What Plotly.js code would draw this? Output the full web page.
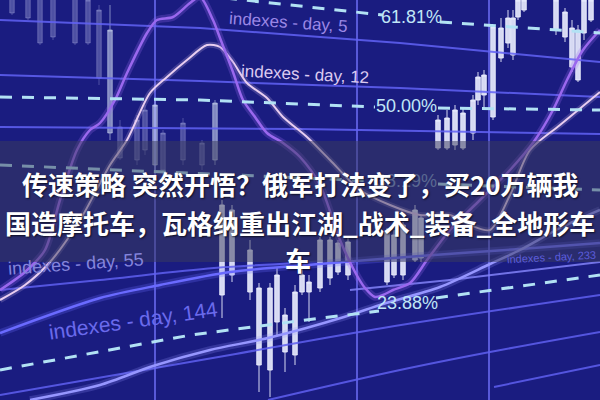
<!DOCTYPE html>
<html><head><meta charset="utf-8">
<script src="https://cdn.plot.ly/plotly-3.0.1.min.js"></script>
<style>html,body{margin:0;padding:0;background:#1a1c80;}#chart{width:600px;height:400px;}</style>
</head><body><div id="chart"></div>
<script>
// ---------- data (index level per trading day) ----------
const day5X   = [0,25,45,60,77,90,100,115,127,147,157,173,190,200,213,220,233,243,255,267,283,300,320,340,355,365,375,383,393,410,427,450,480,510,535,553,567,583,600];
const day5Y   = [110,128,150,200,250,270,277,300,327,367,380,383,397,403,380,362,328,300,283,267,257,243,215,160,128,112,103,105,110,117,140,170,200,230,260,290,320,350,370];
const day12X  = [0,25,50,80,110,127,150,167,187,207,220,233,247,267,283,307,330,360,390,420,450,470,490,510,530,560,600];
const day12Y  = [100,115,138,180,235,260,307,323,340,355,353,338,317,302,283,263,240,210,195,185,185,175,170,205,250,275,308];
const day55X  = [30,100,153,210,268,344,383,440,490,520,560,600];
const day55Y  = [0,15,34,50,62,83,96,113,136,150,172,190];
const day144X = [0,100,160,230,320,420,520,600];
const day144Y = [67,102,115,128,136,144,151,157];
const trendBX = [0,100,214,300];
const trendBY = [110,120,132,137];
const trendRX = [350,450,600];
const trendRY = [110,120,138];
const trendDX = [0,230,383,600];
const trendDY = [5,45,72,105];
const trendEX = [268,400,490,600];
const trendEY = [0,30,48,68];
const trendFX = [494,600];
const trendFY = [13,35];
const upper1X = [0,200,400,600];
const upper1Y = [380,372,357,338];
const upper2X = [0,200,400,600];
const upper2Y = [325,319,312,303];
const upper3X = [0,300,600];
const upper3Y = [273,271,266];

// Fibonacci retracement levels (dashed), gap holds the label
const fib618X = [225,383,null,440,600];
const fib618Y = [402,385,null,378,367];
const fib50X  = [0,200,375,null,438,600];
const fib50Y  = [303,300,293,null,292,290];
const fib382X = [0,375,null,438,600];
const fib382Y = [235,219,null,216,210];
const fib2388X = [0,191,306,379,null,436,600];
const fib2388Y = [30,65,80,89,null,102,125];
const fibLabels = ["61.81%","50.00%","38.19%","23.88%"];

// candlesticks
const fadedX     = [12,28,40,53,75,88,99,120,137,145,163,183,202];
const fadedHigh  = [420,420,420,420,420,420,395,280,285,295,270,282,260];
const fadedOpen  = [387,382,357,363,357,357,322,242,240,250,230,240,235];
const fadedClose = [410,410,410,410,410,400,390,273,280,290,267,277,257];
const fadedLow   = [385,380,355,360,355,355,315,240,235,245,225,235,230];
const midX     = [110,155,215];
const midHigh  = [395,300,300];
const midOpen  = [267,235,240];
const midClose = [370,295,297];
const midLow   = [260,230,235];
const brightX     = [222,232,250,259,270,277,285,295,302,309,320,330,338,348,387,394,403,415,421,438,447,455,463,473,478,484,493,501,508,513,518,524,556,565,572,578,584,591];
const brightHigh  = [200,195,160,117,117,132,92,115,132,125,163,163,160,162,172,170,178,195,185,285,290,295,292,305,328,330,375,382,390,390,405,405,405,392,380,375,405,405];
const brightOpen  = [105,125,108,35,30,78,48,45,108,108,112,122,128,125,118,125,125,140,142,252,252,255,252,267,300,305,283,342,357,345,383,390,370,363,333,320,367,380];
const brightClose = [195,190,150,112,112,125,85,108,125,118,160,160,157,158,168,165,175,190,182,280,282,290,287,300,323,325,373,372,382,382,400,400,400,388,372,370,400,400];
const brightLow   = [82,118,100,8,3,65,28,35,105,78,108,115,125,120,115,122,120,138,138,250,250,250,250,260,295,290,280,338,352,340,380,388,365,358,328,318,360,378];

const titleLines = ["传速策略 突然开悟？俄军打法变了，买20万辆我","国造摩托车，瓦格纳重出江湖_战术_装备_全地形车","车"];
const indexLabels = ["indexes - day, 5","indexes - day, 12","indexes - day, 55","indexes - day, 144","indexes - day, 233"];

// ---------- traces ----------
const traces = [];
function line(x,y,color,width,extra){
  traces.push(Object.assign({type:'scatter',mode:'lines',x:x,y:y,hoverinfo:'skip',
    line:{color:color,width:width},connectgaps:false},extra||{}));
}
// straight guide lines
line(upper1X,upper1Y,'rgba(98,98,245,0.85)',2);
line(upper2X,upper2Y,'rgba(98,98,245,0.85)',2);
line(upper3X,upper3Y,'rgba(98,98,245,0.85)',2);
line(trendBX,trendBY,'',2,{line:{color:'rgba(95,95,240,0.85)',width:2,shape:'spline'}});
line(trendRX,trendRY,'rgba(130,130,248,0.85)',2);
line(trendDX,trendDY,'',2,{line:{color:'rgba(95,95,240,0.85)',width:2,shape:'spline'}});
line(trendEX,trendEY,'',2,{line:{color:'rgba(95,95,240,0.85)',width:2,shape:'spline'}});
line(trendFX,trendFY,'rgba(95,95,240,0.85)',2);

function candles(x,o,h,l,c,col){
  traces.push({type:'candlestick',x:x,open:o,high:h,low:l,close:c,hoverinfo:'skip',whiskerwidth:0,
    increasing:{line:{color:col,width:1},fillcolor:col},decreasing:{line:{color:col,width:1},fillcolor:col}});
}
candles(fadedX,fadedOpen,fadedHigh,fadedLow,fadedClose,'rgba(200,205,245,0.3)');
candles(midX,midOpen,midHigh,midLow,midClose,'rgba(215,225,245,0.55)');
candles(brightX,brightOpen,brightHigh,brightLow,brightClose,'rgba(235,238,255,0.9)');

// moving-average curves (with soft glow)
function glowLine(x,y,color,glow,width){
  traces.push({type:'scatter',mode:'lines',x:x,y:y,hoverinfo:'skip',line:{color:glow,width:width*3,shape:'spline',smoothing:0.8}});
  traces.push({type:'scatter',mode:'lines',x:x,y:y,hoverinfo:'skip',line:{color:color,width:width,shape:'spline',smoothing:0.8}});
}
glowLine(day144X,day144Y,'#6a6aff','rgba(106,106,255,0.25)',2.5);
glowLine(day55X,day55Y,'#9696ff','rgba(150,150,255,0.22)',2.5);
glowLine(day12X,day12Y,'#e8cdf0','rgba(232,205,240,0.2)',2);
glowLine(day5X,day5Y,'#9a68ee','rgba(154,104,238,0.25)',2.5);

// dashed retracement lines and their labels
const fibs = [[fib618X,fib618Y],[fib50X,fib50Y],[fib382X,fib382Y],[fib2388X,fib2388Y]];
fibs.forEach(function(p){
  line(p[0],p[1],'',3,{line:{color:'#b2e2f4',width:3,dash:'12px,10px'}});
});
const fibLabelX = fibs.map(function(p){const k=p[0].indexOf(null);return (p[0][k-1]+p[0][k+1])/2;});
const fibLabelY = fibs.map(function(p){const k=p[0].indexOf(null);return (p[1][k-1]+p[1][k+1])/2;});
traces.push({type:'scatter',mode:'text',x:fibLabelX,y:fibLabelY,text:fibLabels,hoverinfo:'skip',
  textfont:{family:'Liberation Sans Narrow, Liberation Sans, Arial',size:18,
    color:['#c0e6f7','#c0e6f7','rgba(190,228,246,0.6)','#c0e6f7']}});

// ---------- labels ----------
const annotations = [];
annotations.push({x:288,y:378,xref:'x',yref:'y',text:indexLabels[0],showarrow:false,textangle:4,
  font:{family:'Liberation Sans, Arial',size:17,color:'#9c88e6'}});
annotations.push({x:305,y:326,xref:'x',yref:'y',text:indexLabels[1],showarrow:false,textangle:3,
  font:{family:'Liberation Sans, Arial',size:17,color:'#dccaf0'}});
annotations.push({x:76,y:136,xref:'x',yref:'y',text:indexLabels[2],showarrow:false,textangle:-4,
  font:{family:'Liberation Sans, Arial',size:18,color:'#8585dc'}});
annotations.push({x:133,y:80,xref:'x',yref:'y',text:indexLabels[3],showarrow:false,textangle:-8,
  font:{family:'Liberation Sans, Arial',size:21,color:'#6a6aec'}});
annotations.push({x:598,y:143,xref:'x',yref:'y',xanchor:'right',text:indexLabels[4],showarrow:false,textangle:-3,
  font:{family:'Liberation Sans, Arial',size:11,color:'#5c5cdc'}});

const titleFont = {family:'Noto Sans CJK SC, Noto Sans, sans-serif',size:26,color:'#ffffff',weight:700,
  shadow:'1px 1px 2px rgba(0,0,0,0.7)'};
annotations.push({x:0.5,y:1-183/400,xref:'paper',yref:'paper',text:titleLines[0],showarrow:false,font:titleFont});
annotations.push({x:0.5,y:1-222/400,xref:'paper',yref:'paper',text:titleLines[1],showarrow:false,font:titleFont});
annotations.push({x:0.497,y:1-259/400,xref:'paper',yref:'paper',text:titleLines[2],showarrow:false,font:titleFont});

const layout = {
  width:600,height:400,margin:{l:0,r:0,t:0,b:0},
  paper_bgcolor:'#1a1c80',plot_bgcolor:'#1a1c80',
  showlegend:false,boxgap:0.1,boxgroupgap:0,
  xaxis:{type:'linear',range:[0,600],rangeslider:{visible:false},showticklabels:false,ticks:'',zeroline:false,
    showgrid:true,tickmode:'array',tickvals:[155,357,489],gridcolor:'rgba(110,110,245,0.75)',gridwidth:1.5,showline:false,fixedrange:true},
  yaxis:{type:'linear',range:[0,400],showticklabels:false,ticks:'',zeroline:false,showgrid:false,showline:false,fixedrange:true},
  shapes:[{type:'rect',xref:'paper',yref:'paper',x0:0,x1:1,y0:1-262/400,y1:1-141/400,layer:'above',
    fillcolor:'rgba(58,60,92,0.5)',line:{width:0}}],
  annotations:annotations
};
Plotly.newPlot('chart',traces,layout,{displayModeBar:false,staticPlot:true});
</script>
</body></html>
